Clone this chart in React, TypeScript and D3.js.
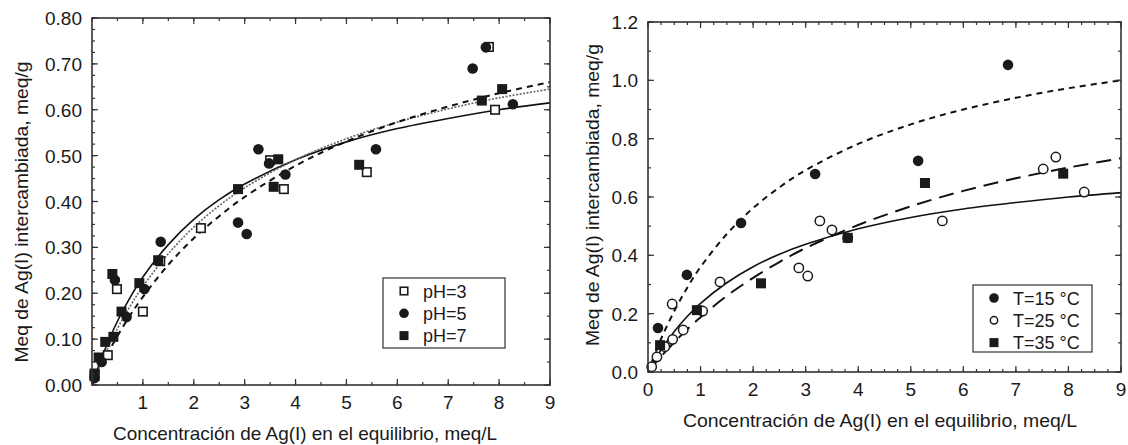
import React from 'react';
import * as d3 from 'd3';

// ---------- Left panel data (pH series) ----------
const ph3X = [0.05, 0.31, 0.49, 1.0, 1.34, 2.14, 3.5, 3.77, 5.4, 7.92, 7.8];
const ph3Y = [0.02, 0.065, 0.209, 0.16, 0.27, 0.342, 0.49, 0.427, 0.464, 0.6, 0.737];

const ph5X = [0.05, 0.19, 0.45, 0.68, 1.03, 1.35, 2.87, 3.04, 3.27, 3.48, 3.8, 5.58, 7.48, 7.74, 8.27];
const ph5Y = [0.015, 0.05, 0.229, 0.148, 0.209, 0.312, 0.354, 0.329, 0.514, 0.483, 0.459, 0.514, 0.69, 0.736, 0.612];

const ph7X = [0.05, 0.13, 0.26, 0.42, 0.4, 0.58, 0.93, 1.3, 2.87, 3.66, 3.57, 5.25, 7.66, 8.06];
const ph7Y = [0.025, 0.06, 0.094, 0.105, 0.242, 0.16, 0.222, 0.272, 0.427, 0.492, 0.432, 0.48, 0.62, 0.645];

const curveX = [0, 0.1, 0.25, 0.5, 0.75, 1, 1.5, 2, 2.5, 3, 4, 5, 6, 7, 8, 9];
const leftSolidY = [0, 0.0325, 0.0764, 0.139, 0.191, 0.2355, 0.306, 0.361, 0.404, 0.438, 0.491, 0.53, 0.559, 0.581, 0.6, 0.615];
const leftDottedY = [0, 0.0277, 0.066, 0.123, 0.172, 0.215, 0.286, 0.344, 0.391, 0.43, 0.491, 0.537, 0.573, 0.602, 0.626, 0.645];
const leftDashedY = [0, 0.0235, 0.0566, 0.107, 0.152, 0.192, 0.262, 0.32, 0.368, 0.41, 0.478, 0.531, 0.573, 0.607, 0.636, 0.66];

const leftXTicks = [1, 2, 3, 4, 5, 6, 7, 8, 9];
const leftXTickLabels = ['1', '2', '3', '4', '5', '6', '7', '8', '9'];
const leftYTicks = [0, 0.1, 0.2, 0.3, 0.4, 0.5, 0.6, 0.7, 0.8];
const leftYTickLabels = ['0.00', '0.10', '0.20', '0.30', '0.40', '0.50', '0.60', '0.70', '0.80'];
const leftLegend = ['pH=3', 'pH=5', 'pH=7'];

// ---------- Right panel data (temperature series) ----------
const t15X = [0.19, 0.74, 1.77, 3.18, 5.14, 6.85];
const t15Y = [0.151, 0.333, 0.511, 0.679, 0.724, 1.053];

const t25X = [0.07, 0.17, 0.32, 0.47, 0.67, 1.04, 0.46, 1.37, 3.27, 3.5, 3.8, 2.87, 3.04, 5.6, 7.52, 7.76, 8.3];
const t25Y = [0.018, 0.052, 0.087, 0.112, 0.144, 0.209, 0.233, 0.309, 0.518, 0.487, 0.46, 0.357, 0.329, 0.518, 0.696, 0.737, 0.617];

const t35X = [0.23, 0.93, 2.15, 3.8, 5.27, 7.9];
const t35Y = [0.092, 0.212, 0.304, 0.46, 0.648, 0.68];

const rightSolidY = [0, 0.0325, 0.0764, 0.139, 0.191, 0.2355, 0.306, 0.361, 0.404, 0.438, 0.491, 0.53, 0.559, 0.581, 0.6, 0.615];
const rightLongY = [0, 0.022, 0.0535, 0.102, 0.147, 0.188, 0.261, 0.323, 0.377, 0.425, 0.504, 0.568, 0.621, 0.664, 0.701, 0.733];
const rightShortY = [0, 0.048, 0.114, 0.209, 0.29, 0.36, 0.473, 0.562, 0.633, 0.692, 0.782, 0.849, 0.9, 0.94, 0.973, 1.0];

const rightXTicks = [0, 1, 2, 3, 4, 5, 6, 7, 8, 9];
const rightXTickLabels = ['0', '1', '2', '3', '4', '5', '6', '7', '8', '9'];
const rightYTicks = [0, 0.2, 0.4, 0.6, 0.8, 1.0, 1.2];
const rightYTickLabels = ['0.0', '0.2', '0.4', '0.6', '0.8', '1.0', '1.2'];
const rightLegend = ['T=15 °C', 'T=25 °C', 'T=35 °C'];

const xTitle = 'Concentración de Ag(I) en el equilibrio, meq/L';
const yTitle = 'Meq de Ag(I) intercambiada, meq/g';

const FONT = 'Liberation Sans, Arial, Helvetica, sans-serif';
const INK = '#1a1a1a';

type MarkerKind = 'openSquare' | 'filledSquare' | 'filledCircle' | 'openCircle';

function Marker({ kind, x, y, size }: { kind: MarkerKind; x: number; y: number; size: number }) {
  if (kind === 'openSquare') {
    const s = size - 1.5;
    return <rect x={x - s / 2} y={y - s / 2} width={s} height={s} fill="#fff" stroke={INK} strokeWidth={1.6} />;
  }
  if (kind === 'filledSquare') {
    return <rect x={x - size / 2} y={y - size / 2} width={size} height={size} fill={INK} />;
  }
  if (kind === 'filledCircle') {
    return <circle cx={x} cy={y} r={size / 2 + 0.3} fill={INK} />;
  }
  return <circle cx={x} cy={y} r={size / 2 - 0.8} fill="#fff" stroke={INK} strokeWidth={1.5} />;
}

interface Series { xs: number[]; ys: number[]; kind: MarkerKind; size: number }
interface Curve { ys: number[]; dash: string; width: number; color: string }

interface PanelProps {
  left: number; right: number; top: number; bottom: number;
  xMax: number; yMax: number;
  xTicks: number[]; xTickLabels: string[]; xMinorStep: number;
  yTicks: number[]; yTickLabels: string[]; yMinorLeft: number; yMinorRight: number;
  series: Series[]; curves: Curve[];
  legend: string[]; legendBox: [number, number, number, number]; legendKinds: MarkerKind[];
  xTitleX: number; xTitleY: number; xTitleLen: number; yTitleX: number; yTitleY: number; yTitleLen: number;
}

function Panel(p: PanelProps) {
  const x = d3.scaleLinear().domain([0, p.xMax]).range([p.left, p.right]);
  const y = d3.scaleLinear().domain([0, p.yMax]).range([p.bottom, p.top]);
  const line = d3.line<number>().x((_, i) => x(curveX[i])).y((d) => y(d)).curve(d3.curveCatmullRom);

  const xMinor = d3.range(0, p.xMax + 1e-9, p.xMinorStep);
  const yMinorL = d3.range(0, p.yMax + 1e-9, p.yMinorLeft);
  const yMinorR = d3.range(0, p.yMax + 1e-9, p.yMinorRight);
  const MAJ = 6, MIN = 3;
  const [lx, ly, lw, lh] = p.legendBox;

  return (
    <g fontFamily={FONT} fill={INK}>
      <defs>
        <clipPath id={`clip${p.left}`}>
          <rect x={p.left} y={p.top} width={p.right - p.left} height={p.bottom - p.top} />
        </clipPath>
      </defs>
      <g clipPath={`url(#clip${p.left})`}>
        {p.curves.map((c, i) => (
          <path key={i} d={line(c.ys) || ''} fill="none" stroke={c.color} strokeWidth={c.width} strokeDasharray={c.dash} />
        ))}
      </g>
      {p.series.map((s, si) =>
        s.xs.map((xv, i) => <Marker key={`${si}-${i}`} kind={s.kind} x={x(xv)} y={y(s.ys[i])} size={s.size} />)
      )}
      {/* frame */}
      <rect x={p.left} y={p.top} width={p.right - p.left} height={p.bottom - p.top} fill="none" stroke="#333" strokeWidth={1.6} />
      {/* ticks */}
      <g stroke="#333" strokeWidth={1.2}>
        {xMinor.map((t, i) => (
          <g key={`xm${i}`}>
            <line x1={x(t)} x2={x(t)} y1={p.bottom} y2={p.bottom - MIN} />
            <line x1={x(t)} x2={x(t)} y1={p.top} y2={p.top + MIN} />
          </g>
        ))}
        {p.xTicks.map((t, i) => (
          <g key={`xM${i}`}>
            <line x1={x(t)} x2={x(t)} y1={p.bottom} y2={p.bottom - MAJ} />
            <line x1={x(t)} x2={x(t)} y1={p.top} y2={p.top + MAJ} />
          </g>
        ))}
        {yMinorL.map((t, i) => (
          <line key={`yl${i}`} x1={p.left} x2={p.left + MIN} y1={y(t)} y2={y(t)} />
        ))}
        {yMinorR.map((t, i) => (
          <line key={`yr${i}`} x1={p.right} x2={p.right - MIN} y1={y(t)} y2={y(t)} />
        ))}
        {p.yTicks.map((t, i) => (
          <g key={`yM${i}`}>
            <line x1={p.left} x2={p.left + MAJ} y1={y(t)} y2={y(t)} />
            <line x1={p.right} x2={p.right - MAJ} y1={y(t)} y2={y(t)} />
          </g>
        ))}
      </g>
      {/* tick labels */}
      {p.xTicks.map((t, i) => (
        <text key={`xl${i}`} x={x(t)} y={p.bottom + 24} textAnchor="middle" fontSize={19}>{p.xTickLabels[i]}</text>
      ))}
      {p.yTicks.map((t, i) => (
        <text key={`yl${i}`} x={p.left - 10} y={y(t) + 7} textAnchor="end" fontSize={19}>{p.yTickLabels[i]}</text>
      ))}
      {/* titles */}
      <text x={p.xTitleX} y={p.xTitleY} textAnchor="middle" fontSize={18.5}
        textLength={p.xTitleLen} lengthAdjust="spacingAndGlyphs">{xTitle}</text>
      <text transform={`translate(${p.yTitleX},${p.yTitleY}) rotate(-90)`} textAnchor="middle" fontSize={19}
        textLength={p.yTitleLen} lengthAdjust="spacingAndGlyphs">{yTitle}</text>
      {/* legend */}
      <rect x={lx} y={ly} width={lw} height={lh} fill="#fff" stroke="#333" strokeWidth={1.2} />
      {p.legend.map((lab, i) => {
        const cy = ly + 13 + i * 22.3;
        return (
          <g key={`lg${i}`}>
            <Marker kind={p.legendKinds[i]} x={lx + 21} y={cy} size={9} />
            <text x={lx + 40} y={cy + 6.5} fontSize={18}>{lab}</text>
          </g>
        );
      })}
    </g>
  );
}

export default function App() {
  return (
    <svg width={1128} height={445} style={{ position: 'absolute', left: 0, top: 0, background: '#fff' }}>
      <rect x={0} y={0} width={1128} height={445} fill="#fff" />
      <Panel
        left={92} right={550} top={18} bottom={385}
        xMax={9} yMax={0.8}
        xTicks={leftXTicks} xTickLabels={leftXTickLabels} xMinorStep={0.5}
        yTicks={leftYTicks} yTickLabels={leftYTickLabels} yMinorLeft={0.025} yMinorRight={0.05}
        curves={[
          { ys: leftSolidY, dash: '', width: 1.6, color: '#111' },
          { ys: leftDottedY, dash: '2,1.5', width: 1.6, color: '#666' },
          { ys: leftDashedY, dash: '6,5', width: 2, color: '#111' },
        ]}
        series={[
          { xs: ph3X, ys: ph3Y, kind: 'openSquare', size: 10 },
          { xs: ph7X, ys: ph7Y, kind: 'filledSquare', size: 10 },
          { xs: ph5X, ys: ph5Y, kind: 'filledCircle', size: 10 },
        ]}
        legend={leftLegend} legendBox={[383, 278, 122, 70]} legendKinds={['openSquare', 'filledCircle', 'filledSquare']}
        xTitleX={305} xTitleY={440} xTitleLen={384} yTitleX={28} yTitleY={212} yTitleLen={301}
      />
      <Panel
        left={648} right={1121} top={22} bottom={372}
        xMax={9} yMax={1.2}
        xTicks={rightXTicks} xTickLabels={rightXTickLabels} xMinorStep={0.25}
        yTicks={rightYTicks} yTickLabels={rightYTickLabels} yMinorLeft={0.1} yMinorRight={0.1}
        curves={[
          { ys: rightSolidY, dash: '', width: 1.6, color: '#111' },
          { ys: rightLongY, dash: '15,8', width: 2, color: '#111' },
          { ys: rightShortY, dash: '6,5', width: 2, color: '#111' },
        ]}
        series={[
          { xs: t25X, ys: t25Y, kind: 'openCircle', size: 11 },
          { xs: t35X, ys: t35Y, kind: 'filledSquare', size: 10 },
          { xs: t15X, ys: t15Y, kind: 'filledCircle', size: 10 },
        ]}
        legend={rightLegend} legendBox={[973, 285, 119, 67]} legendKinds={['filledCircle', 'openCircle', 'filledSquare']}
        xTitleX={880} xTitleY={427} xTitleLen={394} yTitleX={599} yTitleY={195} yTitleLen={302}
      />
    </svg>
  );
}
